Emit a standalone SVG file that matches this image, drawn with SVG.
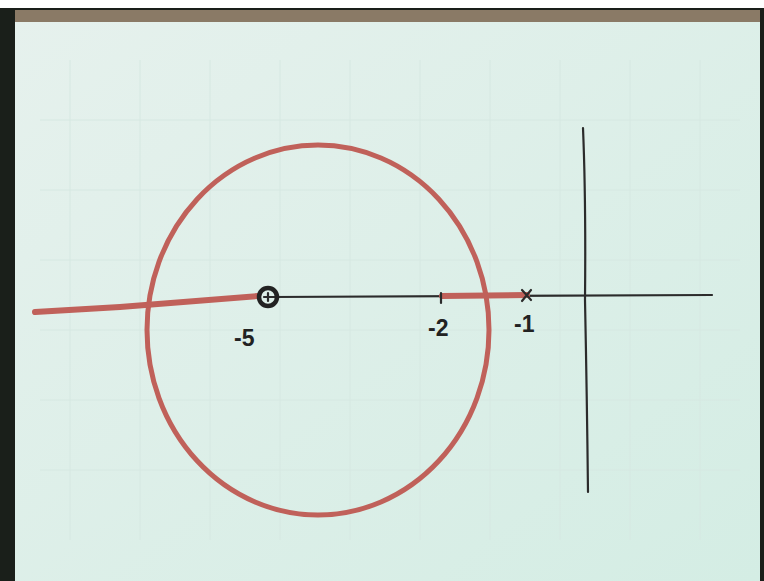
<svg xmlns="http://www.w3.org/2000/svg" width="764" height="581" viewBox="0 0 764 581">
<defs>
<style>
.ink{fill:none;stroke:#2b2b2b;stroke-width:2.2;stroke-linecap:round}
.red{fill:none;stroke:#c0615a;stroke-linecap:round}
.lbl{font-family:"Liberation Sans",Arial,sans-serif;font-size:23px;font-weight:bold;fill:#222}
.grid{stroke:#d6e8e2;stroke-width:1}
</style>
<linearGradient id="paper" x1="0" y1="0" x2="1" y2="1">
<stop offset="0" stop-color="#e6f1ed"/>
<stop offset="1" stop-color="#d4ede4"/>
</linearGradient>
</defs>
<rect width="764" height="581" fill="#ffffff"/>
<rect x="0" y="8" width="764" height="573" fill="#1a1f1a"/>
<rect x="15" y="10" width="745" height="571" fill="url(#paper)"/>
<rect x="15" y="10" width="745" height="12" fill="#8a7a66"/>
<g id="grid">
<path class="grid" d="M70 60V540M140 60V540M210 60V540M280 60V540M350 60V540M420 60V540M490 60V540M560 60V540M630 60V540M700 60V540M40 120H740M40 190H740M40 260H740M40 330H740M40 400H740M40 470H740"/>
</g>
<g id="axes">
<path class="ink" d="M272 297 L712 295"/>
<path class="ink" d="M583 128 Q586 200 585 300 Q587 400 588 492"/>
</g>
<g id="locus">
<ellipse class="red" cx="318" cy="330" rx="171" ry="185" stroke-width="5"/>
<path class="red" d="M35 312 L120 307 L258 296" stroke-width="6"/>
<path class="red" d="M442 296 L527 295" stroke-width="6"/>
</g>
<g id="zero">
<circle cx="268" cy="297" r="9" fill="none" stroke="#222" stroke-width="4.5"/>
<path class="ink" d="M264 297h8M268 293v8" stroke-width="1.5"/>
</g>
<g id="poles">
<path class="ink" d="M441 293 L441 303" stroke-width="3"/>
<path class="ink" d="M522 290 L531 300 M531 290 L522 301" stroke-width="2.6"/>
</g>
<g id="labels">
<text class="lbl" x="234" y="346">-5</text>
<text class="lbl" x="428" y="336">-2</text>
<text class="lbl" x="514" y="332">-1</text>
</g>
</svg>
